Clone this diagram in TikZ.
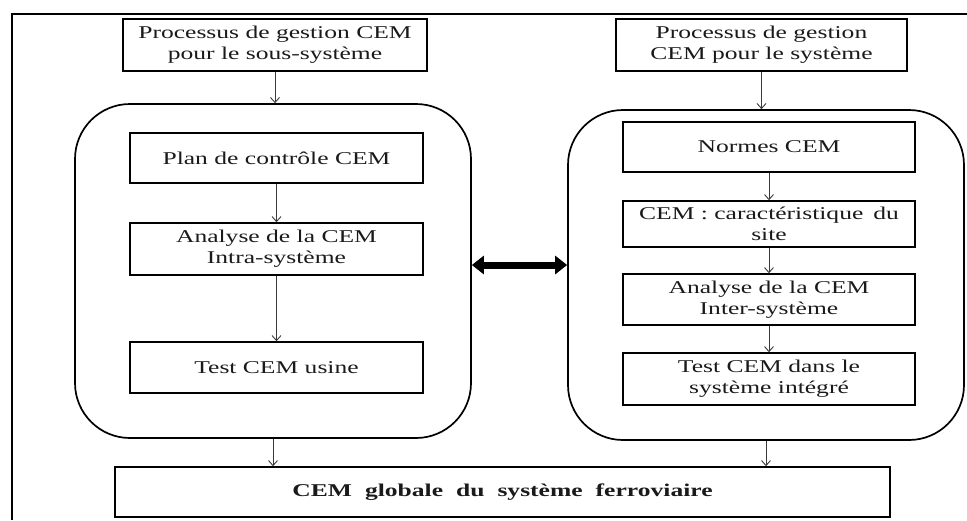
\documentclass[tikz,border=0pt]{standalone}
\usepackage{fontspec}
\setmainfont{Liberation Serif}[FakeStretch=1.42]
\usetikzlibrary{arrows.meta}
\definecolor{ink}{HTML}{1A1A1A}
\definecolor{flowgray}{HTML}{3A3A3A}
\begin{document}
\begin{tikzpicture}[x=1pt, y=-1pt,
  txt/.style={text=ink, font=\fontsize{18}{21}\selectfont, align=center, inner sep=0pt},
  box/.style={txt, draw=black, line width=1.6pt},
  topbox/.style={box, line width=1.9pt, minimum height=52pt},
  innerbox/.style={box, minimum width=293pt},
  panel/.style={draw=black, line width=1.7pt, rounded corners=55pt, minimum width=396pt, inner sep=0pt},
  flow/.style={draw=flowgray, line width=0.9pt, -{Straight Barb[length=5pt,width=9pt]}},
  link/.style={draw=black, line width=7pt, {Triangle[length=12pt,width=18pt]}-{Triangle[length=12pt,width=18pt]}}
]
\useasboundingbox (0,0) rectangle (967,520);

% outer frame (open on the right and at the bottom)
\draw[line width=2.2pt] (12,520) -- (12,13.5);
\draw[line width=1.5pt] (11,14) -- (967,14);

% management processes
\node[topbox, minimum width=304pt] (tl) at (275,45) {Processus de gestion CEM\\pour le sous-système};
\node[topbox, minimum width=291pt] (tr) at (761.5,45) {Processus de gestion\\CEM pour le système};

% sub-system panel
\node[panel, minimum height=334pt] (L) at (273,271) {};
\node[innerbox, minimum height=50pt] (plan) at (276.5,158) {Plan de contrôle CEM};
\node[innerbox, minimum height=52pt] (intra) at (276.5,249) {Analyse de la CEM\\Intra-système};
\node[innerbox, minimum height=51pt] (usine) at (276.5,367.5) {Test CEM usine};

% system panel
\node[panel, minimum height=330pt] (R) at (766,275) {};
\node[innerbox, minimum width=292pt, minimum height=50pt] (normes) at (769,147) {Normes CEM};
\node[innerbox, minimum width=292pt, minimum height=46pt] (site) at (769,224) {CEM : caractéristique\hspace{10pt}du\\site};
\node[innerbox, minimum width=292pt, minimum height=51pt] (inter) at (769,299.5) {Analyse de la CEM\\Inter-système};
\node[innerbox, minimum width=292pt, minimum height=52pt] (integ) at (769,379) {Test CEM dans le\\système intégré};

% railway system
\node[box, minimum width=775pt, minimum height=50pt,
      font={\fontsize{18}{21}\selectfont\bfseries\spaceskip=13pt\relax}] (glob) at (502.5,492) {CEM globale du système ferroviaire};

% connectors
\draw[flow] (tl.south) -- (tl.south |- L.north);
\draw[flow] (tr.south) -- (tr.south |- R.north);
\draw[flow] (plan) -- (intra);
\draw[flow] (intra) -- (usine);
\draw[flow] (normes) -- (site);
\draw[flow] (site) -- (inter);
\draw[flow] (inter) -- (integ);
\draw[flow] (L.south) -- (L.south |- glob.north);
\draw[flow] (R.south) -- (R.south |- glob.north);

% exchange between the two panels
\coordinate (mid) at (520,265);
\draw[link] (mid -| L.east) -- (mid -| R.west);
\end{tikzpicture}
\end{document}
